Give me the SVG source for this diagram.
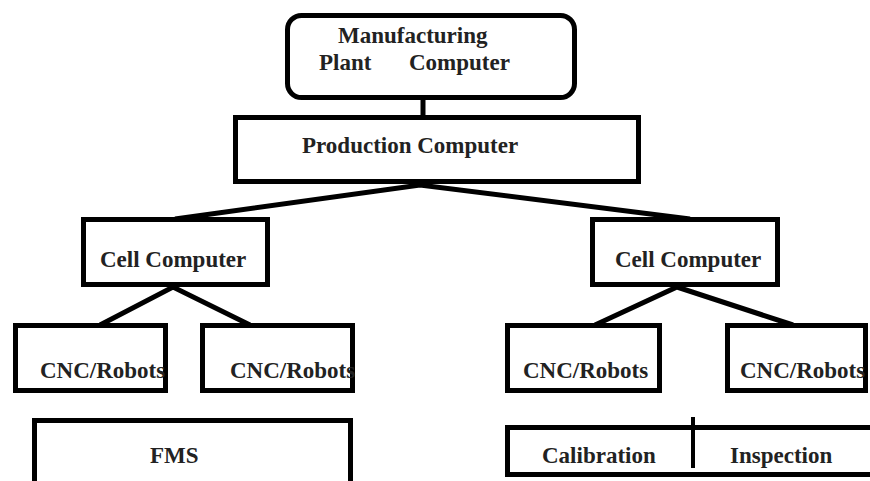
<svg xmlns="http://www.w3.org/2000/svg" width="870" height="481" viewBox="0 0 870 481">
<style>
.box{fill:#fff;stroke:#000;stroke-width:5}
.conn{fill:none;stroke:#000;stroke-width:5;stroke-linejoin:miter}
.t{font-family:"Liberation Serif","Times New Roman",serif;font-weight:bold;font-size:23px;fill:#222}
</style>
<rect width="870" height="481" fill="#fff"/>
<g id="connectors">
<line class="conn" x1="423" y1="98" x2="423" y2="117" stroke-width="4"/>
<polyline class="conn" points="175,219 420,185 690,219"/>
<polyline class="conn" points="100,325 173,287 250,325"/>
<polyline class="conn" points="595,325 677,287 793,325"/>
</g>
<g id="plant">
<rect class="box" x="287.5" y="15.5" width="287" height="82" rx="14"/>
<text class="t" x="338" y="43">Manufacturing</text>
<text class="t" y="70"><tspan x="319">Plant</tspan><tspan x="409">Computer</tspan></text>
</g>
<g id="production">
<rect class="box" x="235.5" y="117.5" width="403" height="64"/>
<text class="t" x="302" y="153">Production Computer</text>
</g>
<g id="cell-left">
<rect class="box" x="83.5" y="219.5" width="184" height="65"/>
<text class="t" x="100" y="267">Cell Computer</text>
</g>
<g id="cell-right">
<rect class="box" x="592.5" y="219.5" width="185" height="65"/>
<text class="t" x="615" y="267">Cell Computer</text>
</g>
<g id="cnc1">
<rect class="box" x="15.5" y="325.5" width="150" height="65"/>
<text class="t" x="40" y="378">CNC/Robots</text>
</g>
<g id="cnc2">
<rect class="box" x="202.5" y="325.5" width="150" height="65"/>
<text class="t" x="230" y="378">CNC/Robots</text>
</g>
<g id="cnc3">
<rect class="box" x="507.5" y="325.5" width="152" height="65"/>
<text class="t" x="523" y="378">CNC/Robots</text>
</g>
<g id="cnc4">
<rect class="box" x="727.5" y="325.5" width="138" height="65"/>
<text class="t" x="740" y="378">CNC/Robots</text>
</g>
<g id="fms">
<rect class="box" x="34.5" y="420.5" width="316" height="70"/>
<text class="t" x="150" y="463">FMS</text>
</g>
<g id="calibration-inspection">
<rect class="box" x="507.5" y="427.5" width="380" height="47"/>
<line x1="693" y1="417" x2="693" y2="468" stroke="#000" stroke-width="4"/>
<text class="t" x="542" y="463">Calibration</text>
<text class="t" x="730" y="463">Inspection</text>
</g>
</svg>
